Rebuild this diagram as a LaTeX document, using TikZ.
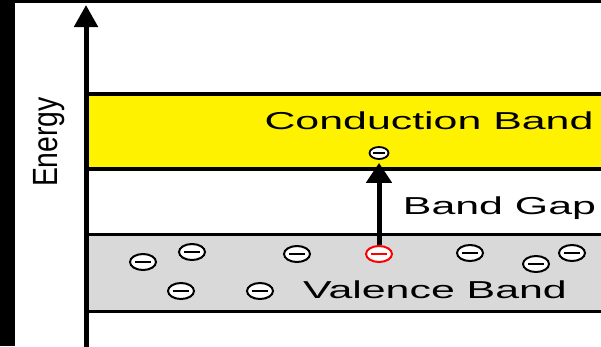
\documentclass[tikz,border=0pt]{standalone}
\usepackage{fontspec}
\setmainfont{Liberation Sans}
\usetikzlibrary{shapes.geometric,arrows.meta}
\newcommand\widetext[1]{\scalebox{1.75}[1]{\fontsize{24.5pt}{24.5pt}\selectfont #1}}
\newcommand\narrowtext[1]{\scalebox{0.81}[1]{\fontsize{35pt}{35pt}\selectfont #1}}
\begin{document}
\begin{tikzpicture}[x=1pt,y=-1pt,
  electron/.style={ellipse, draw=#1, fill=white, line width=2pt,
    minimum width=26pt, minimum height=16pt, inner sep=0pt,
    path picture={\draw[line width=2.4pt, draw=#1]
      ([xshift=-8pt]path picture bounding box.center) --
      ([xshift=8pt]path picture bounding box.center);}},
  electron/.default=black,
  smallelectron/.style={ellipse, draw=black, fill=white, line width=1.8pt,
    minimum width=19pt, minimum height=12pt, inner sep=0pt,
    path picture={\draw[line width=2pt]
      ([xshift=-6pt]path picture bounding box.center) --
      ([xshift=6pt]path picture bounding box.center);}},
  band/.style={draw=black, line width=3.5pt},
  lbl/.style={inner sep=0pt, anchor=base},
  axisline/.style={line width=5pt, -{Triangle[length=22pt,width=23pt]}},
  gaparrow/.style={line width=5pt, -{Triangle[length=20pt,width=25pt]}, shorten >=3pt}
]
\useasboundingbox (0,0) rectangle (601,346);
\clip (0,0) rectangle (601,346);
\fill[white] (0,0) rectangle (601,346);
% frame bars
\fill[black] (0,0) rectangle (15,346);
\fill[black] (0,0) rectangle (601,3);
% bands
\filldraw[band, fill=yellow] (86,94) rectangle (640,169);
\filldraw[band, fill={rgb,255:red,217;green,217;blue,217}] (86,234.5) rectangle (640,311.5);
% axis
\coordinate (axbot) at (86,350);
\coordinate (axtop) at (86,5);
\draw[axisline] (axbot) -- (axtop);
% labels
\node[lbl, rotate=90] (energy) at (57,142) {\narrowtext{Energy}};
\node[lbl] (cb) at (429,129) {\widetext{Conduction Band}};
\node[lbl] (gap) at (499.5,214) {\widetext{Band Gap}};
\node[lbl] (vb) at (435,298) {\widetext{Valence Band}};
% electrons
\node[smallelectron] (ce) at (379,153) {};
\node[electron] (v1) at (143,262) {};
\node[electron] (v2) at (192,252) {};
\node[electron] (v3) at (181,291) {};
\node[electron] (v4) at (260,291) {};
\node[electron] (v5) at (297,254) {};
\node[electron=red] (ve) at (379,254) {};
\node[electron] (v7) at (470,253) {};
\node[electron] (v8) at (536,264) {};
\node[electron] (v9) at (572,253) {};
% excitation arrow
\draw[gaparrow] (ve.north) -- (ce.south);
\end{tikzpicture}
\end{document}
